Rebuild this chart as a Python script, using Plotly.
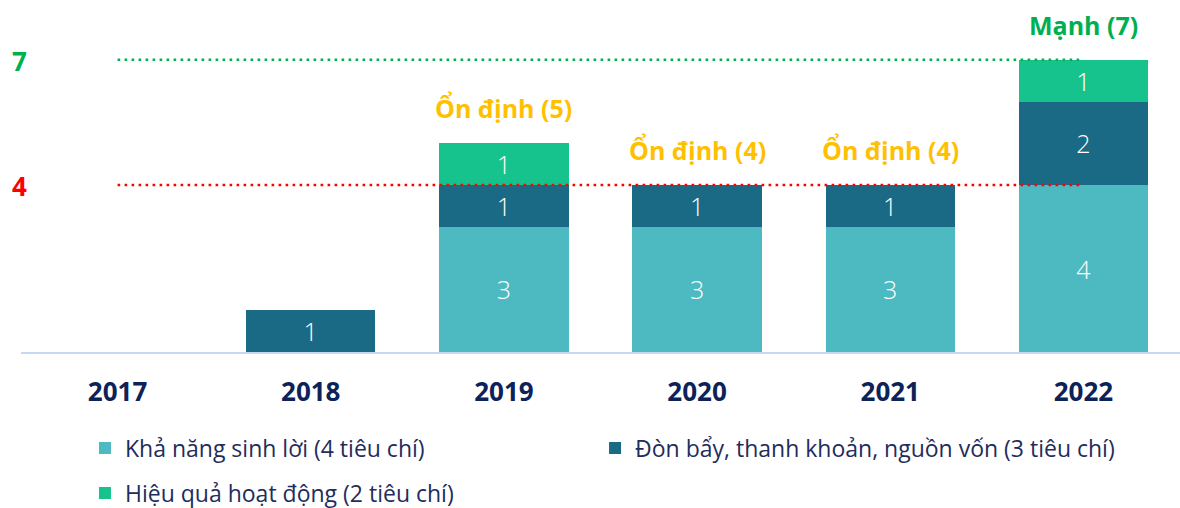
import plotly.graph_objects as go

years = ["2017", "2018", "2019", "2020", "2021", "2022"]
kha_nang = [0, 0, 3, 3, 3, 4]
don_bay = [0, 1, 1, 1, 1, 2]
hieu_qua = [0, 0, 1, 0, 0, 1]
totals = [a + b + c for a, b, c in zip(kha_nang, don_bay, hieu_qua)]
ratings = ["", "", "Ổn định (5)", "Ổn định (4)", "Ổn định (4)", "Mạnh (7)"]
rating_colors = ["#FFC000", "#FFC000", "#FFC000", "#FFC000", "#FFC000", "#00B050"]
series_names = ["Khả năng sinh lời (4 tiêu chí)",
                "Đòn bẩy, thanh khoản, nguồn vốn (3 tiêu chí)",
                "Hiệu quả hoạt động (2 tiêu chí)"]
series_colors = ["#4DB9C1", "#1A6A86", "#17C38C"]
thresholds = [7, 4]
threshold_colors = ["#00B050", "#FF0000"]

FONT = "Open Sans"
fig = go.Figure()
legends = ["legend", "legend3", "legend2"]
for vals, name, col, lg in zip([kha_nang, don_bay, hieu_qua], series_names, series_colors, legends):
    fig.add_trace(go.Bar(
        x=years, y=vals, name=name, marker=dict(color=col, line=dict(width=0)),
        text=[str(v) if v else "" for v in vals], textposition="inside",
        insidetextanchor="middle", constraintext="none",
        textfont=dict(color="white", size=25, family=FONT, weight=300),
        legend=lg, hoverinfo="skip"))

for t, c in zip(thresholds, threshold_colors):
    fig.add_trace(go.Scatter(
        x=[years[0], years[-1]], y=[t, t], mode="lines",
        line=dict(color=c, width=2.6, dash="2.6px,4.4px"),
        showlegend=False, hoverinfo="skip"))
    fig.add_annotation(xref="paper", yref="y", x=0, y=t, text=f"<b>{t}</b>",
                       showarrow=False, xanchor="center", yanchor="middle", xshift=-2, yshift=-1,
                       font=dict(color=c, size=26, family=FONT))

for i, (tot, r, c) in enumerate(zip(totals, ratings, rating_colors)):
    if r:
        fig.add_annotation(x=i, y=tot, text=f"<b>{r}</b>", showarrow=False,
                           yanchor="middle", yshift=35,
                           font=dict(color=c, size=25, family=FONT))

leg_font = dict(size=23, color="#1F2D5C", family=FONT)
fig.update_layout(
    width=1180, height=508,
    margin=dict(l=21, r=0, t=0, b=156, autoexpand=False),
    paper_bgcolor="white", plot_bgcolor="white",
    barmode="stack", bargap=0.33,
    font=dict(family=FONT, color="#1F2D5C"),
    xaxis=dict(type="category", showline=True, linecolor="#C9D8F2", linewidth=2, showgrid=False,
               ticks="outside", ticklen=16, tickcolor="rgba(0,0,0,0)",
               range=[-0.5, len(years) - 0.5],
               tickfont=dict(size=26, color="#0D2258", family=FONT),
               tickprefix="<b>", ticksuffix="</b>", fixedrange=True),
    yaxis=dict(range=[0, 352 / 41.75], visible=False, fixedrange=True),
    legend=dict(orientation="h", x=0.0552, y=-0.2727, xanchor="left", yanchor="middle",
                font=leg_font),
    legend3=dict(orientation="h", x=0.4953, y=-0.2727, xanchor="left", yanchor="middle",
                 font=leg_font),
    legend2=dict(orientation="h", x=0.0552, y=-0.4006, xanchor="left", yanchor="middle",
                 font=leg_font),
    showlegend=True,
)
fig.write_html("out.html", config={"displayModeBar": False},
               post_script="document.body.style.margin='0';document.body.style.overflow='hidden';")
